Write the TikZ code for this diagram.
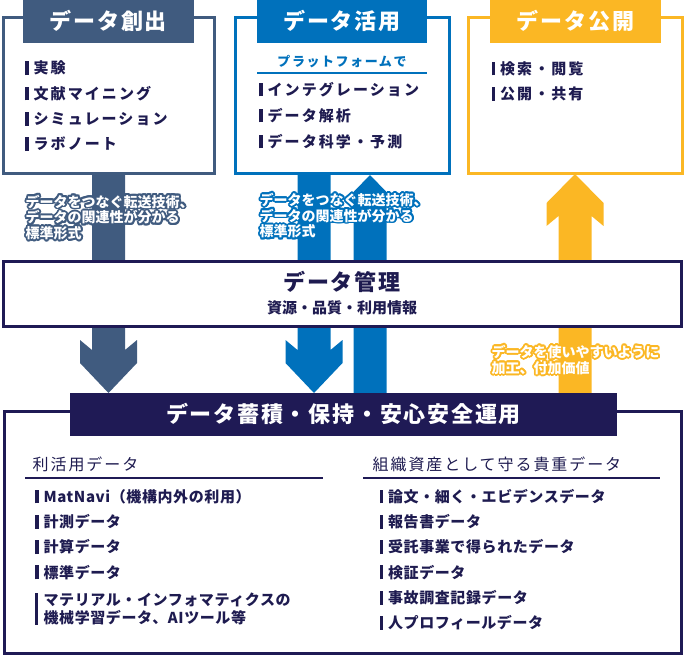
\documentclass[tikz,border=0pt]{standalone}
\usepackage{fontspec}
\setmainfont{Noto Sans CJK JP}
\newfontfamily\fttl[LetterSpace=8]{Noto Sans CJK JP}
\newfontfamily\fitem[LetterSpace=14]{Noto Sans CJK JP}
\newfontfamily\fbitem[LetterSpace=4]{Noto Sans CJK JP}
\newfontfamily\fhead[LetterSpace=12]{Noto Sans CJK JP}
\newfontfamily\flbl{Noto Sans CJK JP}
\usetikzlibrary{calc}
\definecolor{slate}{HTML}{405B7F}
\definecolor{cblue}{HTML}{0071BC}
\definecolor{cyel}{HTML}{FBB724}
\definecolor{navy}{HTML}{1F1A55}
\definecolor{ink}{HTML}{1E1B50}
\newcommand\itembar{\rule[-0.085em]{3.4pt}{0.93em}\hspace{5pt}}
\newcommand\myDownShape[3]{\fill[#1] let \p1=(#2), \p2=(#3) in
 (\x1-16.5pt,\y1) -- (\x1-16.5pt,\y2+43pt) -- (\x1-28.5pt,\y2+53pt) -- (\x1-28.5pt,\y2+30pt)
 -- (\x1,\y2) -- (\x1+28.5pt,\y2+30pt) -- (\x1+28.5pt,\y2+53pt) -- (\x1+16.5pt,\y2+43pt)
 -- (\x1+16.5pt,\y1) -- cycle;}
\newcommand\myUpShape[3]{\fill[#1] let \p1=(#2), \p2=(#3) in
 (\x1-16.5pt,\y2) -- (\x1-16.5pt,\y1-42pt) -- (\x1-28.5pt,\y1-52pt) -- (\x1-28.5pt,\y1-29pt)
 -- (\x1,\y1) -- (\x1+28.5pt,\y1-29pt) -- (\x1+28.5pt,\y1-52pt) -- (\x1+16.5pt,\y1-42pt)
 -- (\x1+16.5pt,\y2) -- cycle;}
\newcommand\myPencilShape[3]{\fill[#1] let \p1=(#2), \p2=(#3) in
 (\x1-16.5pt,\y2) -- (\x1-16.5pt,\y1-17pt) -- (\x1,\y1) -- (\x1+16.5pt,\y1-17pt)
 -- (\x1+16.5pt,\y2) -- cycle;}
% halo label: coloured copies under a white text
\newcommand\haloNode[4]{%
 \foreach \dx/\dy in {1.8/0,-1.8/0,0/1.8,0/-1.8,1.3/1.3,-1.3/1.3,1.3/-1.3,-1.3/-1.3,1.65/0.7,-1.65/0.7,1.65/-0.7,-1.65/-0.7,0.7/1.65,-0.7/1.65,0.7/-1.65,-0.7/-1.65}
   {\node[lbl, text=#1] at ($(#2)+(\dx,\dy)$) {#4};}
 \node[lbl] (#3) at (#2) {#4};}
\begin{document}
\begin{tikzpicture}[x=1pt,y=-1pt,
  frame/.style={draw, line width=2.6pt, fill=white, inner sep=0pt},
  tabbox/.style={inner sep=0pt, text=white, font=\fttl\bfseries\fontsize{22}{26}\selectfont,
    text height=19.36pt, text depth=2.64pt, minimum height=43pt},
  item/.style={anchor=base west, inner sep=0pt, text=ink, font=\fitem\bfseries\fontsize{15}{18}\selectfont},
  bitem/.style={anchor=base west, inner sep=0pt, text=ink, font=\fbitem\bfseries\fontsize{15}{18}\selectfont},
  head/.style={anchor=base west, inner sep=0pt, text=ink, font=\fhead\fontsize{16}{19}\selectfont},
  lbl/.style={anchor=base west, inner sep=0pt, text=white, font=\flbl\bfseries\fontsize{14}{16}\selectfont},
  rulesty/.style={line width=1.8pt}
]
\useasboundingbox (0,0) rectangle (684,656);
% arrow anchor coordinates
\coordinate (a1top) at (108.5,174);
\coordinate (a1tip) at (108.5,393);
\coordinate (a2top) at (314,174);
\coordinate (a2tip) at (314,393);
\coordinate (a3tip) at (370,175);
\coordinate (a3bot) at (370,393);
\coordinate (a4tip) at (575,174);
\coordinate (a4bot) at (575,393);
% big arrows
\myDownShape{slate}{a1top}{a1tip}
\myDownShape{cblue}{a2top}{a2tip}
\myPencilShape{cblue}{a3tip}{a3bot}
\myUpShape{cyel}{a4tip}{a4bot}
% top boxes
\node[frame, draw=slate, minimum width=211pt, minimum height=156pt] (create) at (109,95.5) {};
\node[tabbox, fill=slate, minimum width=171pt] (createT) at (108.5,21.5) {データ創出};
\node[frame, draw=cblue, minimum width=214pt, minimum height=156pt] (use) at (342.5,95.5) {};
\node[tabbox, fill=cblue, minimum width=170pt] (useT) at (342,21.5) {データ活用};
\node[frame, draw=cyel, minimum width=214pt, minimum height=156pt] (pub) at (575.5,95.5) {};
\node[tabbox, fill=cyel, minimum width=171pt] (pubT) at (575.5,21.5) {データ公開};
% left items
\node[item] (c1) at (25,73.9) {\itembar 実験};
\node[item] (c2) at (25,99.2) {\itembar 文献マイニング};
\node[item] (c3) at (25,124.5) {\itembar シミュレーション};
\node[item] (c4) at (25,149.8) {\itembar ラボノート};
% middle
\node[anchor=base, inner sep=0pt, text=cblue, font=\fhead\bfseries\fontsize{13}{16}\selectfont] (plat) at (342,66.9) {プラットフォームで};
\coordinate (pl1) at (257,73);
\coordinate (pl2) at (427,73);
\draw[cblue, line width=1.6pt] (pl1) -- (pl2);
\node[item] (u1) at (259,95.2) {\itembar インテグレーション};
\node[item] (u2) at (259,121.2) {\itembar データ解析};
\node[item] (u3) at (259,147.2) {\itembar データ科学・予測};
% right
\node[item] (p1) at (491.5,74.2) {\itembar 検索・閲覧};
\node[item] (p2) at (491.5,99.4) {\itembar 公開・共有};
% management box
\node[draw=navy, line width=3pt, fill=white, inner sep=0pt, minimum width=678.5pt, minimum height=65pt] (mgmt) at (342.25,294) {};
\node[anchor=base, inner sep=0pt, text=ink, font=\fttl\bfseries\fontsize{22}{26}\selectfont] (mgmtT) at (342,290.9) {データ管理};
\node[anchor=base, inner sep=0pt, text=ink, font=\bfseries\fontsize{15}{18}\selectfont] (mgmtS) at (342,313.2) {資源・品質・利用情報};
% bottom box and banner
\node[draw=navy, line width=3pt, inner sep=0pt, minimum width=677.5pt, minimum height=242.5pt] (store) at (342.75,532.25) {};
\node[tabbox, fill=navy, minimum width=547pt] (storeT) at (343.5,414.5) {データ蓄積・保持・安心安全運用};
% bottom left column
\node[head] (h1) at (32.5,470.6) {利活用データ};
\coordinate (hl1a) at (25,478);
\coordinate (hl1b) at (323,478);
\draw[navy, rulesty] (hl1a) -- (hl1b);
\node[bitem] (b1) at (35,502.2) {\itembar MatNavi（機構内外の利用）};
\node[bitem] (b2) at (35,527.5) {\itembar 計測データ};
\node[bitem] (b3) at (35,552.8) {\itembar 計算データ};
\node[bitem] (b4) at (35,578.1) {\itembar 標準データ};
\node[fill=ink, inner sep=0pt, minimum width=3.4pt, minimum height=32pt] (b5bar) at (36.7,609) {};
\node[bitem] (b5a) at (43.4,605.7) {マテリアル・インフォマティクスの};
\node[bitem] (b5b) at (43.4,623.7) {機械学習データ、AIツール等};
% bottom right column
\node[head] (h2) at (372.5,470.6) {組織資産として守る貴重データ};
\coordinate (hl2a) at (363,478);
\coordinate (hl2b) at (660,478);
\draw[navy, rulesty] (hl2a) -- (hl2b);
\node[bitem] (r1) at (379.5,502.2) {\itembar 論文・細く・エビデンスデータ};
\node[bitem] (r2) at (379.5,527.5) {\itembar 報告書データ};
\node[bitem] (r3) at (379.5,552.8) {\itembar 受託事業で得られたデータ};
\node[bitem] (r4) at (379.5,578.1) {\itembar 検証データ};
\node[bitem] (r5) at (379.5,603.4) {\itembar 事故調査記録データ};
\node[bitem] (r6) at (379.5,628.7) {\itembar 人プロフィールデータ};
% arrow labels with halo
\coordinate (lab1pos) at (25.5,207);
\coordinate (lab2pos) at (259.5,205.3);
\coordinate (lab3pos) at (491.5,357.3);
\haloNode{slate}{lab1pos}{lab1}{\vtop{\baselineskip=15.7pt\lineskiplimit=-20pt\hbox{データをつなぐ転送技術、}\hbox{データの関連性が分かる}\hbox{標準形式}}}
\haloNode{cblue}{lab2pos}{lab2}{\vtop{\baselineskip=15.7pt\lineskiplimit=-20pt\hbox{データをつなぐ転送技術、}\hbox{データの関連性が分かる}\hbox{標準形式}}}
\haloNode{cyel}{lab3pos}{lab3}{\vtop{\baselineskip=16pt\lineskiplimit=-20pt\hbox{データを使いやすいように}\hbox{加工、付加価値}}}
\end{tikzpicture}
\end{document}
